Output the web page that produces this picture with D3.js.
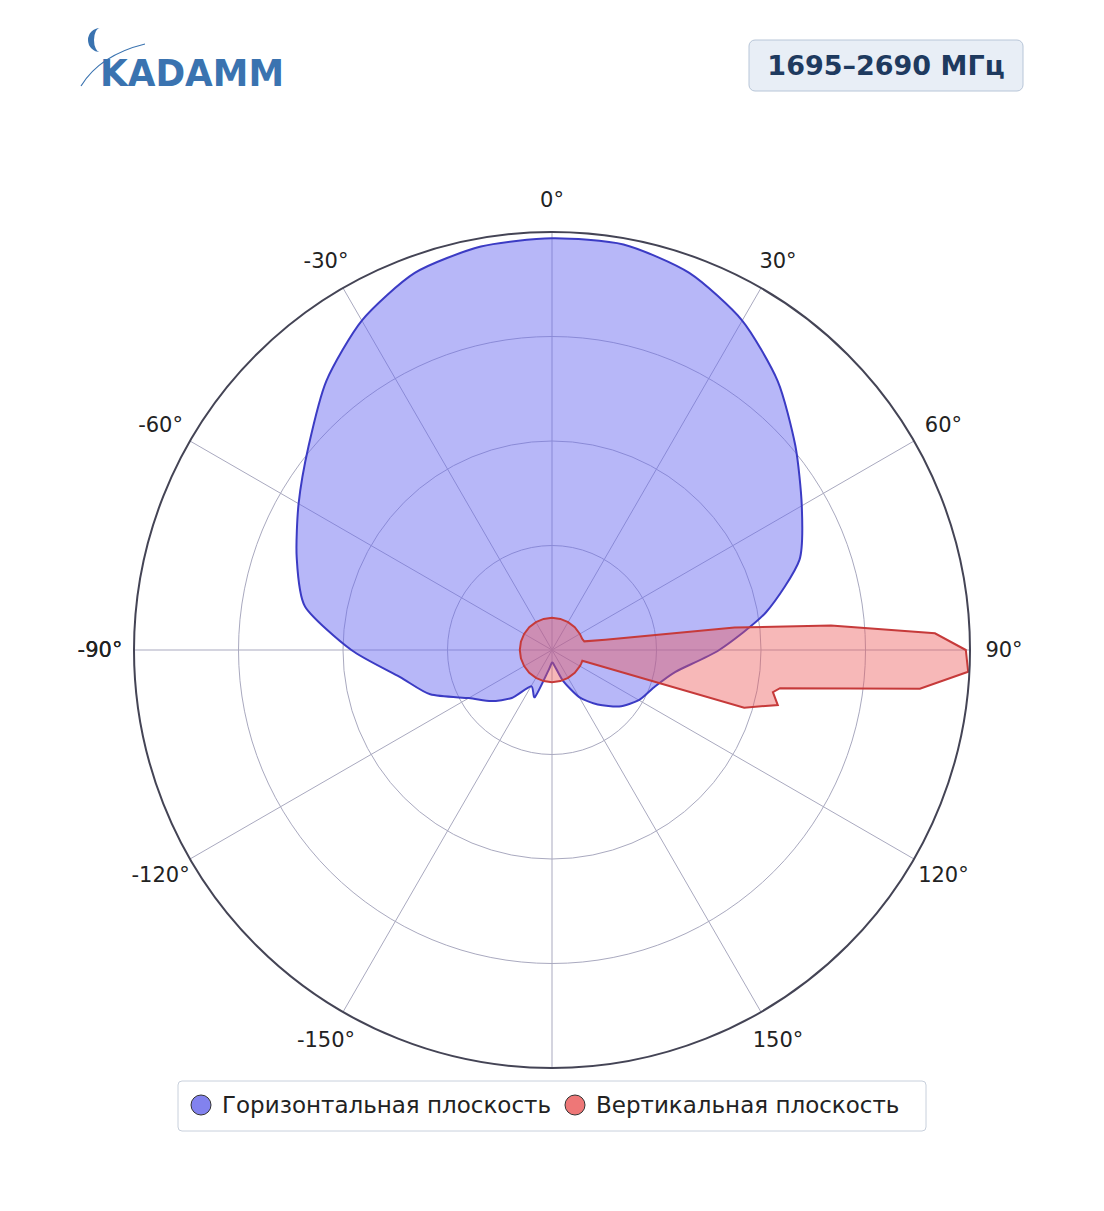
<!DOCTYPE html>
<html><head><meta charset="utf-8">
<script src="https://cdn.jsdelivr.net/npm/d3@7"></script>
<style>body{margin:0;background:#fff;font-family:"DejaVu Sans",sans-serif}</style>
</head><body>
<svg id="chart" width="1104" height="1211"></svg>
<script>
// horizontal plane, every 10 deg from -180 to 170 (fraction of max)
const hAngles = [-180,-170,-160,-150,-140,-130,-120,-110,-100,-90,-80,-70,-60,-50,-40,-30,-20,-10,0,10,20,30,40,50,60,70,80,90,100,110,120,130,140,150,160,170];
const hValues = [0.03,0.05,0.12,0.10,0.15,0.19,0.23,0.31,0.37,0.48,0.60,0.65,0.70,0.76,0.84,0.91,0.96,0.98,0.985,0.985,0.96,0.91,0.84,0.76,0.69,0.63,0.52,0.40,0.30,0.26,0.24,0.21,0.17,0.13,0.08,0.04];
// vertical plane
const vAngles = [-180,-165,-150,-135,-120,-105,-90,-75,-60,-45,-30,-15,0,15,30,45,60,70,75,79,83,85,87.5,90,93,96,99.5,100.8,103.7,106.7,109.6,115,120,135,150,165];
const vValues = [0.077,0.077,0.077,0.077,0.077,0.077,0.077,0.077,0.077,0.077,0.077,0.077,0.077,0.077,0.077,0.077,0.077,0.077,0.08,0.13,0.44,0.67,0.917,0.99,0.997,0.885,0.553,0.538,0.556,0.48,0.077,0.077,0.077,0.077,0.077,0.077];
const spokes = d3.range(-150, 181, 30);
const rings = [0.25, 0.5, 0.75, 1];

const svg = d3.select("#chart");
const cx = 552, cy = 650, R = 418;
const r = d3.scaleLinear().domain([0, 1]).range([0, R]);
const rad = d => d * Math.PI / 180;
const g = svg.append("g").attr("transform", `translate(${cx},${cy})`);

// grid
g.selectAll(".ring").data(rings.slice(0, -1)).enter().append("circle")
  .attr("r", d => r(d)).attr("fill", "none").attr("stroke", "#a9a9bf").attr("stroke-width", 1);
g.selectAll(".spoke").data(spokes).enter().append("line")
  .attr("x2", d => r(1) * Math.sin(rad(d))).attr("y2", d => -r(1) * Math.cos(rad(d)))
  .attr("stroke", "#a9a9bf").attr("stroke-width", 1);

const radial = d3.lineRadial().angle(d => rad(d[0])).radius(d => r(d[1]));

g.append("path").datum(d3.zip(hAngles, hValues)).attr("d", radial.curve(d3.curveCardinalClosed.tension(0.3)))
  .attr("fill", "rgba(105,105,240,0.48)").attr("stroke", "#3b3bc4").attr("stroke-width", 2);
g.append("path").datum(d3.zip(vAngles, vValues)).attr("d", radial.curve(d3.curveLinearClosed))
  .attr("fill", "rgba(235,85,85,0.42)").attr("stroke", "#c63a3a").attr("stroke-width", 2);

g.append("circle").attr("r", r(1)).attr("fill", "none").attr("stroke", "#444455").attr("stroke-width", 2);

// angle labels
g.selectAll(".lbl").data(spokes.filter(d => d !== 180).concat([-90])).enter().append("text")
  .attr("x", d => 452 * Math.sin(rad(d))).attr("y", d => -450 * Math.cos(rad(d)))
  .attr("dy", "0.35em").attr("text-anchor", "middle").attr("font-size", 21).attr("fill", "#222")
  .text(d => d + "°");

// title box
svg.append("rect").attr("x", 749).attr("y", 40).attr("width", 274).attr("height", 51).attr("rx", 6)
  .attr("fill", "#e8eef6").attr("stroke", "#b8c6d8");
svg.append("text").attr("x", 886).attr("y", 75).attr("text-anchor", "middle").attr("font-size", 27)
  .attr("font-weight", "bold").attr("fill", "#1e3a5f").text("1695–2690 МГц");

// logo
const logo = svg.append("g");
logo.append("path").attr("d", "M100,28 A12,12 0 0 0 100,52 A6,12 0 0 1 100,28 Z").attr("fill", "#3a73b0");
logo.append("path").attr("d", "M81,86 Q100,55 145,44").attr("fill", "none").attr("stroke", "#3a73b0").attr("stroke-width", 1.2);
logo.append("text").attr("x", 100).attr("y", 86).attr("font-size", 38).attr("font-weight", "bold")
  .attr("fill", "#3a73b0").attr("textLength", 184).attr("lengthAdjust", "spacingAndGlyphs").text("KADAMM");

// legend
svg.append("rect").attr("x", 178).attr("y", 1081).attr("width", 748).attr("height", 50).attr("rx", 4)
  .attr("fill", "#fff").attr("stroke", "#c8d0dc");
const legend = [["Горизонтальная плоскость", "#8282ee", 201], ["Вертикальная плоскость", "#ee7777", 575]];
legend.forEach(([t, c, x]) => {
  svg.append("circle").attr("cx", x).attr("cy", 1105).attr("r", 10).attr("fill", c).attr("stroke", "#333");
  svg.append("text").attr("x", x + 21).attr("y", 1113).attr("font-size", 23).attr("fill", "#222").text(t);
});
</script>
</body></html>
